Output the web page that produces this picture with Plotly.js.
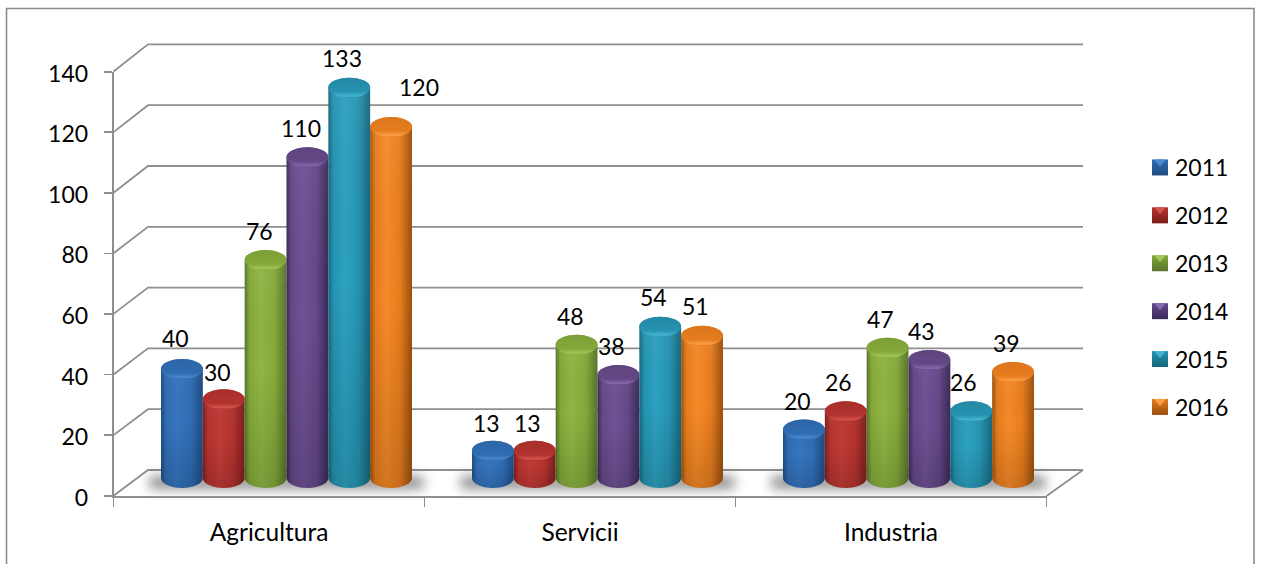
<!DOCTYPE html>
<html><head><meta charset="utf-8">
<script src="https://cdn.plot.ly/plotly-3.0.1.min.js"></script>
<style>html,body{margin:0;padding:0;background:#fff;overflow:hidden}</style>
</head><body><div id="chart" style="width:1262px;height:564px"></div>
<script>
const categories = ['Agricultura', 'Servicii', 'Industria'];
const years = ['2011', '2012', '2013', '2014', '2015', '2016'];
const val2011 = [40, 13, 20];
const val2012 = [30, 13, 26];
const val2013 = [76, 48, 47];
const val2014 = [110, 38, 43];
const val2015 = [133, 54, 26];
const val2016 = [120, 51, 39];
const yTicks = [0, 20, 40, 60, 80, 100, 120, 140];
const series = [val2011, val2012, val2013, val2014, val2015, val2016];
const W = 1262, H = 564;
const px = v => v / W, py = v => 1 - v / H;

// [dark edge, body, highlight, cap dark, cap rim]
const palette = [
  ['#1f4a80', '#2f6cb2', '#3675bf', '#2d66a8', '#4a86ca'],
  ['#7a1f1c', '#b3322e', '#c03b37', '#a82f2b', '#d2534e'],
  ['#57732a', '#84a93a', '#8fb644', '#7c9f36', '#a2c656'],
  ['#3b2958', '#644887', '#6f5296', '#5e447e', '#8468ad'],
  ['#16667c', '#2593b1', '#2da2c1', '#2589a5', '#47b4d0'],
  ['#9a4f0d', '#e67c1e', '#f58a27', '#dd761c', '#fb9e45']
];
const barColors = palette.map(p => p[1]);

const gridColor = '#8f8f8f';
const frontX = 113.5, backX = 148, backRight = 1083, frontRight = 1046.5;
const frontY = v => 495.7 - v * 3.03, backY = v => 470 - v * 3.04;

const shapes = [];
shapes.push({type: 'rect', xref: 'paper', yref: 'paper', x0: px(6.5), x1: px(1254), y0: -0.1, y1: py(8.5),
  line: {color: '#8c8c8c', width: 1.6}, fillcolor: 'rgba(0,0,0,0)', layer: 'below'});
yTicks.forEach(v => {
  shapes.push({type: 'path', xref: 'paper', yref: 'paper', layer: 'below',
    path: `M ${px(frontX)} ${py(frontY(v))} L ${px(backX)} ${py(backY(v))} L ${px(backRight)} ${py(backY(v))}`,
    line: {color: gridColor, width: 1.8}});
});
shapes.push({type: 'line', xref: 'paper', yref: 'paper', layer: 'below',
  x0: px(frontRight), x1: px(backRight), y0: py(496), y1: py(470), line: {color: gridColor, width: 1.8}});
categories.forEach((c, i) => {
  shapes.push({type: 'rect', xref: 'x', yref: 'paper', layer: 'below',
    x0: i - 0.44, x1: i + 0.44, y0: py(489), y1: py(476),
    fillcolor: '#4a4a4a', opacity: 0.62, line: {width: 0}});
});

const labelDX = [[-6, -6, -6, -6, -7, 28], [-6, -7, -6, -7, -7, -7], [-6, -7, -7, -8, -8, -7]];
const labelDY = [[31, 27, 29, 29, 30, 40], [28, 28, 29, 29, 30, 30], [29, 29, 29, 29, 29, 29]];
const slot = 41.83 / 311;
const annotations = [];
categories.forEach((c, i) => series.forEach((s, k) => {
  annotations.push({xref: 'x', yref: 'y', x: i + (k - 2.5) * slot, y: s[i], text: String(s[i]),
    showarrow: false, xanchor: 'center', yanchor: 'middle',
    xshift: labelDX[i][k], yshift: labelDY[i][k],
    font: {family: 'Lato', size: 23, color: '#000'}});
}));

const traces = years.map((y, k) => ({
  type: 'bar', name: y, x: categories, y: series[k], xaxis: 'x', yaxis: 'y',
  marker: {color: barColors[k], line: {width: 0}}, legendgroup: y, cliponaxis: false, hoverinfo: 'skip'
}));
// carries the visible category and value axes
traces.push({type: 'scatter', mode: 'none', x: categories, y: [0, 0, 0], xaxis: 'x2', yaxis: 'y2',
  showlegend: false, hoverinfo: 'skip'});

const layout = {
  width: W, height: H, margin: {l: 0, r: 0, t: 0, b: 0},
  paper_bgcolor: '#fff', plot_bgcolor: 'rgba(0,0,0,0)',
  font: {family: 'Lato', size: 23, color: '#000'},
  barmode: 'group', bargap: 0.193, bargroupgap: 0,
  xaxis: {domain: [px(131), px(1064)], anchor: 'y', type: 'category', categoryarray: categories,
    range: [-0.5, 2.5], visible: false, fixedrange: true},
  yaxis: {domain: [py(490), py(66.5)], anchor: 'x', range: [0, 140], visible: false, fixedrange: true},
  xaxis2: {domain: [px(frontX), px(frontRight)], anchor: 'y2', type: 'category', categoryarray: categories,
    range: [-0.5, 2.5], tickson: 'boundaries',
    showline: true, linecolor: gridColor, linewidth: 1.8, ticks: 'outside', ticklen: 9, tickwidth: 1.8,
    tickcolor: gridColor, showgrid: false, zeroline: false, fixedrange: true, ticklabelstandoff: 14,
    tickfont: {family: 'Lato', size: 24.5, color: '#000'}},
  yaxis2: {domain: [py(495.7), py(71.7)], anchor: 'x2', range: [0, 140], tickmode: 'array', tickvals: yTicks,
    showline: true, linecolor: gridColor, linewidth: 1.8, ticks: 'outside', ticklen: 8, tickwidth: 1.8,
    tickcolor: gridColor, showgrid: false, zeroline: false, fixedrange: true, ticklabelstandoff: 11,
    ticklabelshift: 2,
    tickfont: {family: 'Lato', size: 23, color: '#000'}},
  shapes, annotations,
  showlegend: true,
  legend: {x: px(1135), y: py(146), xanchor: 'left', yanchor: 'top', bgcolor: 'rgba(0,0,0,0)',
    traceorder: 'grouped', tracegroupgap: 15, font: {family: 'Lato', size: 23, color: '#000'}, itemclick: false}
};

const NS = 'http://www.w3.org/2000/svg';
function el(tag, attrs, parent) {
  const e = document.createElementNS(NS, tag);
  Object.entries(attrs).forEach(([a, b]) => e.setAttribute(a, b));
  if (parent) parent.appendChild(e);
  return e;
}
function grad(defs, id, x2, y2, stops) {
  const g = el('linearGradient', {id, x1: 0, y1: 0, x2, y2}, defs);
  stops.forEach(s => el('stop', {offset: s[0], 'stop-color': s[1], 'stop-opacity': s[2] === undefined ? 1 : s[2]}, g));
}

Plotly.newPlot('chart', traces, layout, {displayModeBar: false, staticPlot: true}).then(gd => {
  const svg = gd.querySelector('.main-svg');
  const defs = svg.querySelector('defs') || el('defs', {}, svg);
  grad(defs, 'vshade', 0, 1, [[0, '#fff', 0.05], [0.5, '#000', 0], [1, '#000', 0.14]]);
  palette.forEach((p, k) => {
    grad(defs, 'body' + k, 1, 0, [[0, p[0]], [0.12, p[1]], [0.4, p[2]], [0.72, p[1]], [1, p[0]]]);
    grad(defs, 'cap' + k, 0, 1, [[0, p[3]], [0.7, p[1]], [0.92, p[4]], [1, p[1]]]);
    grad(defs, 'key' + k, 0, 1, [[0, p[1]], [1, p[0]]]);
  });
  gd.querySelectorAll('.barlayer .trace').forEach((tr, k) => {
    tr.querySelectorAll('.point').forEach(pt => {
      const path = pt.querySelector('path');
      const b = path.getBBox();
      const rx = b.width / 2, ry = 10;
      const yTop = b.y, yBase = b.y + b.height - 12;
      const d = `M${b.x},${yTop}A${rx},${ry} 0 0 1 ${b.x + b.width},${yTop}L${b.x + b.width},${yBase}A${rx},${ry} 0 0 1 ${b.x},${yBase}Z`;
      path.setAttribute('d', d);
      path.style.fill = `url(#body${k})`;
      el('path', {d, style: 'fill:url(#vshade);stroke:none'}, pt);
      el('ellipse', {cx: b.x + rx, cy: yTop, rx, ry, style: `fill:url(#cap${k});stroke:none`}, pt);
    });
  });
  gd.querySelectorAll('.shapelayer path').forEach(p => {
    if (p.style.fill && p.style.fill.indexOf('74, 74, 74') >= 0) p.style.filter = 'blur(6px)';
  });
  gd.querySelectorAll('.legend .traces').forEach((tr, k) => {
    const p = tr.querySelector('.legendpoints path');
    if (!p) return;
    p.setAttribute('d', 'M13,8H-3V-8H13Z');
    p.style.fill = `url(#key${k})`;
    p.style.stroke = 'none';
    const tri = el('path', {d: 'M-1,-8H11L5,-1Z', style: `fill:${palette[k][4]};stroke:none`}, p.parentNode);
    if (p.getAttribute('transform')) tri.setAttribute('transform', p.getAttribute('transform'));
  });
});
</script>
</body></html>
